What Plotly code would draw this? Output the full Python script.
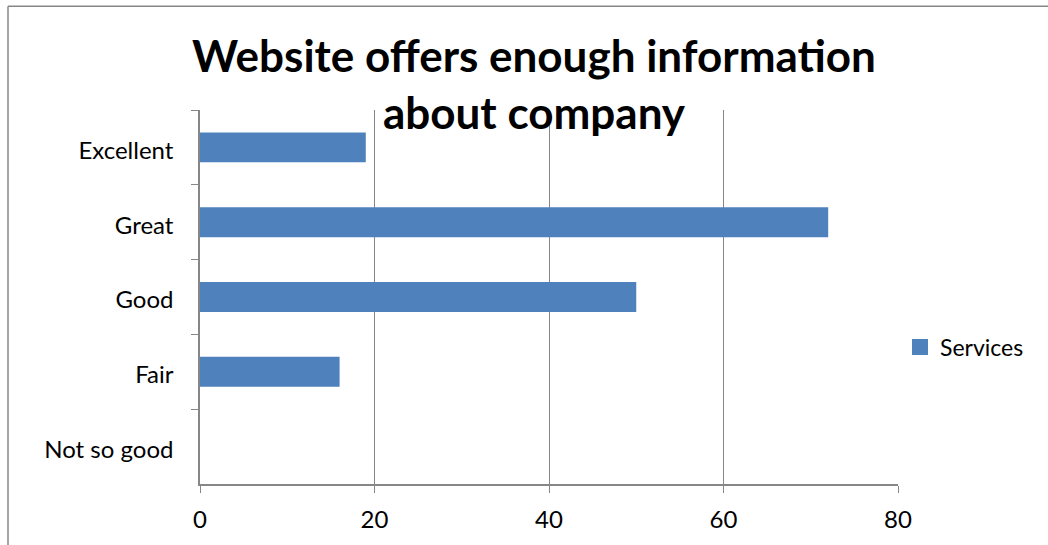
import plotly.graph_objects as go

# Survey responses: "Website offers enough information about company"
categories = ["Excellent", "Great", "Good", "Fair", "Not so good"]
services = [19, 72, 50, 16, 0]
x_ticks = [0, 20, 40, 60, 80]

W, H = 1048, 545
ML, MR, MT, MB = 200, 150, 110, 58
pw = W - ML - MR
ph = H - MT - MB

GRAY = "#878787"
BAR = "#4F81BD"
FONT = "Lato"

fig = go.Figure()
fig.add_trace(go.Bar(
    x=services,
    y=categories,
    orientation="h",
    name="Services",
    width=0.4,
    marker=dict(color=BAR, line=dict(width=0)),
    showlegend=False,
))
# legend key drawn as a larger square swatch
fig.add_trace(go.Scatter(
    x=[None], y=[None], mode="markers", name="Services",
    marker=dict(symbol="square", size=16, color=BAR),
    showlegend=True,
))

# outer chart frame: left and top edges
fx0 = (8 - ML) / pw
fy1 = (H - MB - 5.5) / ph
frame = dict(color=GRAY, width=1.5)
fig.add_shape(type="line", xref="paper", yref="paper",
              x0=fx0, x1=fx0, y0=-0.6, y1=fy1, line=frame)
fig.add_shape(type="line", xref="paper", yref="paper",
              x0=fx0, x1=1.6, y0=fy1, y1=fy1, line=frame)

fig.update_layout(
    width=W, height=H,
    margin=dict(l=ML, r=MR, t=MT, b=MB),
    paper_bgcolor="white", plot_bgcolor="white",
    font=dict(family=FONT, size=24, color="black"),
    title=dict(
        text="<b>Website offers enough information<br>about company</b>",
        x=534 / W, xanchor="center",
        y=1 - 72 / H, yanchor="middle",
        font=dict(family=FONT, size=44, color="black"),
    ),
    showlegend=True,
    legend=dict(
        x=(900 - ML) / pw, xanchor="left",
        y=(H - MB - 349) / ph, yanchor="middle",
        font=dict(size=23),
        bgcolor="rgba(0,0,0,0)",
        itemwidth=30,
    ),
    xaxis=dict(
        range=[0, 80], tickvals=x_ticks,
        showgrid=True, gridcolor=GRAY, gridwidth=1.2,
        showline=True, linecolor=GRAY, linewidth=1.5,
        ticks="outside", ticklen=7, tickcolor=GRAY, tickwidth=1.2,
        zeroline=False, fixedrange=True,
        ticklabelstandoff=6,
    ),
    yaxis=dict(
        categoryorder="array", categoryarray=categories,
        autorange="reversed",
        showline=True, linecolor=GRAY, linewidth=1.5,
        ticks="outside", ticklen=7, tickcolor=GRAY, tickwidth=1.2,
        tickson="boundaries",
        showgrid=False, zeroline=False,
        ticklabelstandoff=20,
        ticklabelshift=-3,
    ),
    bargap=0.6,
)

fig.write_html("out.html")
